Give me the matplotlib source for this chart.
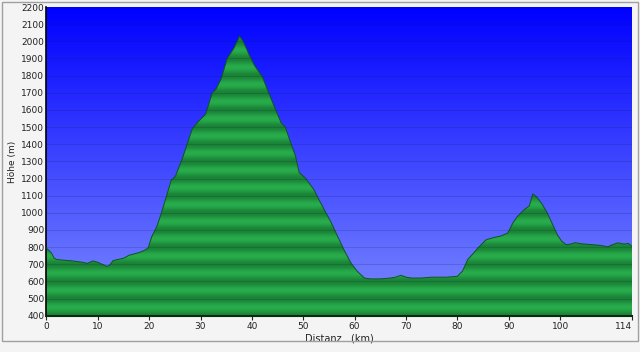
import numpy as np
import matplotlib
matplotlib.use("Agg")
import matplotlib.pyplot as plt

# Höhenprofil (km, m)
dist_km = [0, 1, 1.5, 2, 3, 5, 7, 8, 9, 10, 11, 11.8, 12.3, 13, 15, 15.7, 16, 18, 19, 19.8,
           20.5, 21.5, 22.4, 24.3, 25.1, 26.5, 28.4, 29.5, 31, 32.3, 33, 34, 35.2, 36.5,
           37.6, 38.3, 39.5, 40.5, 42.1, 43, 44.5, 45.7, 46.5, 47.6, 48.5, 49.2, 50.5,
           52.1, 53, 54.1, 55.5, 56.7, 58, 59.3, 60.5, 61.9, 63, 65, 67, 68, 69, 70, 71,
           73, 75, 78, 80, 81, 82, 83, 84, 85.6, 87, 88.5, 89.8, 90.8, 91.7, 93, 94,
           94.7, 95.5, 96.5, 97.5, 98.5, 99.5, 100.3, 101.2, 102, 103, 104, 106, 108,
           109.3, 110, 111.2, 112.5, 113.3, 114]
hoehe_m = [795, 765, 736, 728, 725, 720, 712, 705, 720, 712, 698, 688, 695, 722, 735, 746,
           752, 768, 780, 795, 860, 920, 1000, 1190, 1212, 1320, 1490, 1530, 1575, 1700,
           1720, 1780, 1900, 1960, 2030, 2000, 1920, 1860, 1790, 1720, 1610, 1525, 1500,
           1405, 1330, 1235, 1200, 1134, 1080, 1018, 940, 862, 780, 707, 660, 620, 615,
           615, 620, 625, 636, 625, 620, 620, 625, 625, 630, 660, 727, 760, 795, 843, 855,
           865, 882, 940, 979, 1018, 1040, 1111, 1090, 1050, 1000, 935, 870, 835, 814,
           818, 826, 820, 815, 810, 802, 812, 825, 818, 822, 804]

y_ticks = list(range(400, 2201, 100))
x_ticks = [0, 10, 20, 30, 40, 50, 60, 70, 80, 90, 100, 114]

fig = plt.figure(figsize=(6.4, 3.52), dpi=100, facecolor="#f4f4f4")
ax = fig.add_axes([0.0725, 0.103, 0.915, 0.877])
x0, x1, y0, y1 = 0, 114, 400, 2200

# Himmel: Verlauf von blau oben nach hellblau unten
n = 256
t = np.linspace(0, 1, n)[:, None]
top = np.array([0, 0, 255]) / 255
bot = np.array([125, 140, 255]) / 255
sky = (top * (1 - t) + bot * t)[:, None, :].repeat(2, axis=1)
ax.imshow(sky, extent=[x0, x1, y0, y1], aspect="auto", origin="upper", zorder=0)

# Gelaende: weiche gruene Streifen, dunkler an jeder 100-m-Linie
hh = np.linspace(y1, y0, 900)
phase = ((hh - y0) % 100) / 100
dark = 0.5 * (1 + np.cos(2 * np.pi * phase))
light = np.array([40, 172, 76]) / 255
dk = np.array([26, 130, 54]) / 255
green = light * (1 - dark[:, None]) + dk * dark[:, None]
green = green[:, None, :].repeat(2, axis=1)
poly = ax.fill_between(dist_km, hoehe_m, y0, color="none", zorder=1)
img = ax.imshow(green, extent=[x0, x1, y0, y1], aspect="auto", origin="upper", zorder=2)
img.set_clip_path(poly.get_paths()[0], transform=ax.transData)
ax.plot(dist_km, hoehe_m, color="#0f5520", lw=0.7, zorder=3)

for yv in y_ticks[1:-1]:
    ax.axhline(yv, color="#102040", lw=0.6, alpha=0.22, zorder=4)

ax.set_xlim(x0, x1)
ax.set_ylim(y0, y1)
ax.set_xticks(x_ticks)
ax.set_yticks(y_ticks)
ax.tick_params(labelsize=6.5, length=3, width=0.8, colors="#222222", pad=1.5)
ax.tick_params(axis="y", length=0)
ax.get_xticklabels()[-1].set_horizontalalignment("right")
for s in ["top", "right"]:
    ax.spines[s].set_visible(False)
ax.spines["bottom"].set_linewidth(1.5)
ax.spines["bottom"].set_color("#0a2a10")
ax.spines["left"].set_linewidth(1.2)
ax.set_xlabel("Distanz   (km)", fontsize=7, labelpad=2, color="#222222")
ax.set_ylabel("Höhe (m)", fontsize=6.5, labelpad=3, color="#222222")

# Rahmen um das Bild
fig.add_artist(plt.Rectangle((0.003, 0.03), 0.994, 0.964, transform=fig.transFigure,
                             fill=False, edgecolor="#a0a0a0", lw=1))

fig.savefig("out.png", dpi=100, facecolor=fig.get_facecolor())
